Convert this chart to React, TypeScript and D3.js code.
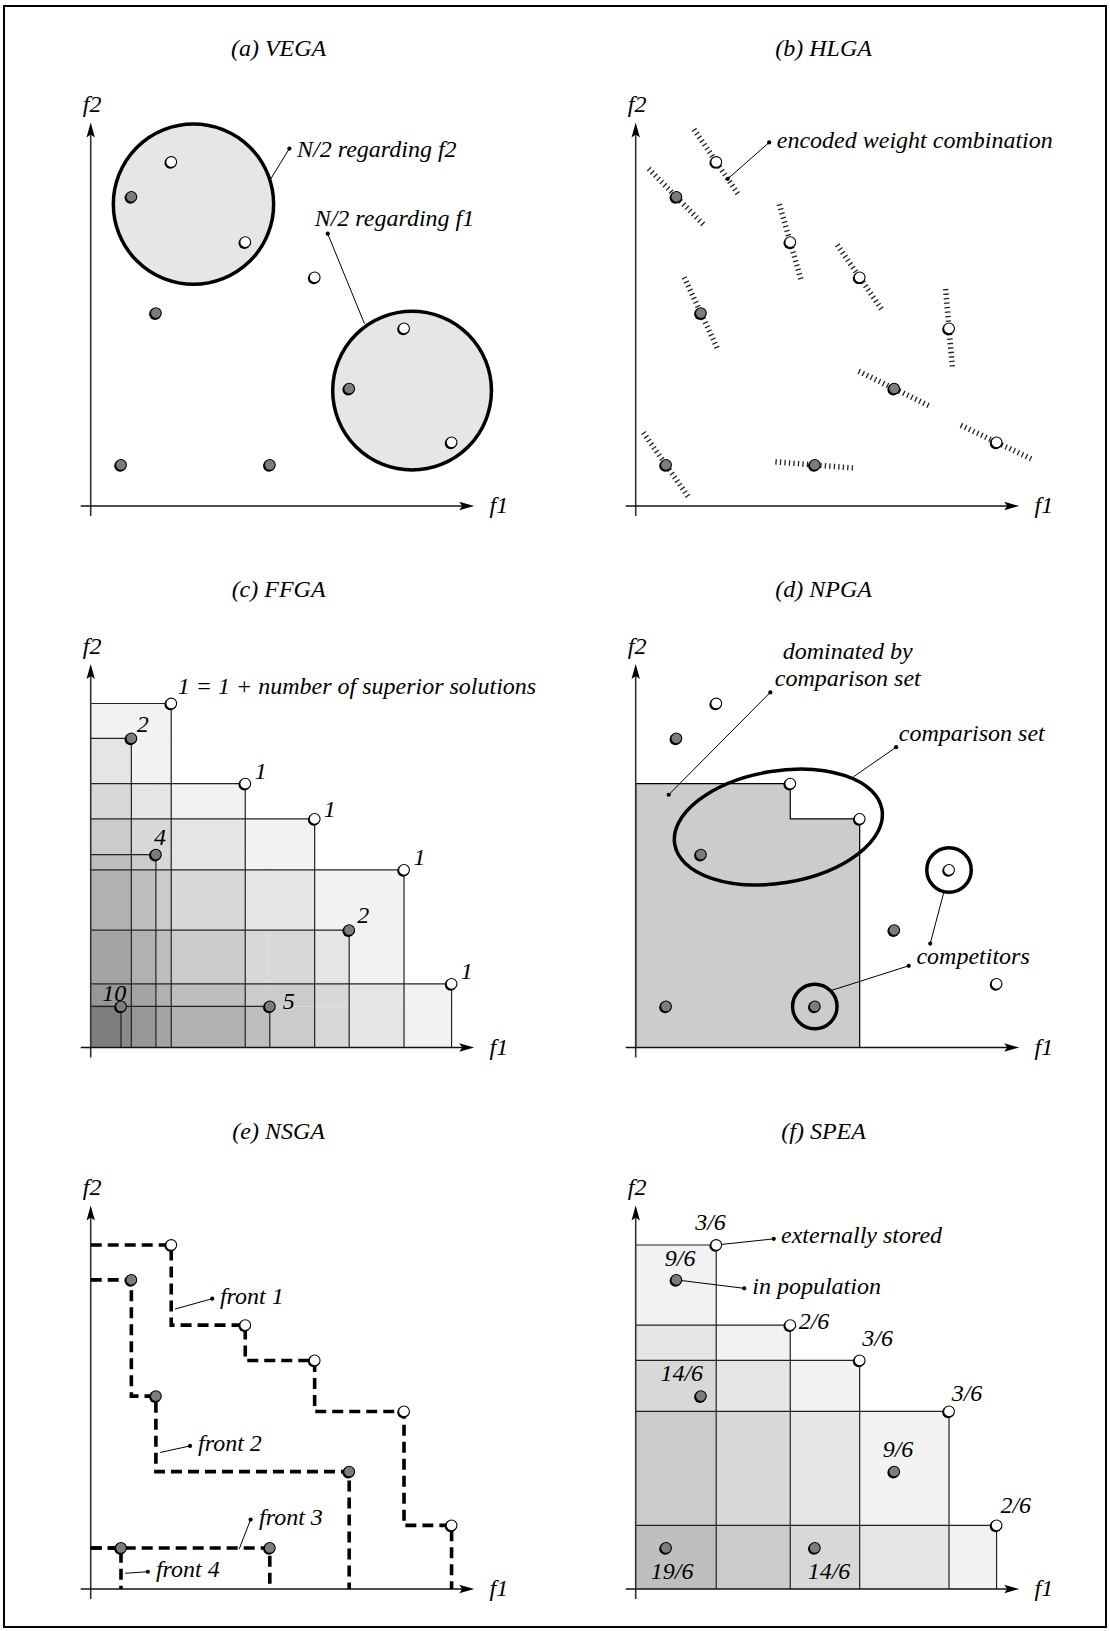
import React from "react";
import * as d3 from "d3";

// ---------------- data (in objective units 0..100) ----------------
const POINT_F1 = [21.0, 10.6, 40.3, 58.4, 17.0, 81.7, 67.4, 94.1, 7.9, 46.7];
const POINT_F2 = [89.7, 80.6, 68.8, 59.6, 50.3, 46.3, 30.6, 16.6, 10.7, 10.7];
const NONDOMINATED = [true, false, true, true, false, true, false, true, false, false];

const PANEL_TITLES = ["(a) VEGA", "(b) HLGA", "(c) FFGA", "(d) NPGA", "(e) NSGA", "(f) SPEA"];

// (a) VEGA: two sub-populations selected by single objectives
const VEGA_GROUP_CX = [26.8, 83.8];
const VEGA_GROUP_CY = [78.7, 30.1];
const VEGA_GROUP_R = [20.9, 20.7];
const VEGA_LABELS = ["N/2 regarding f2", "N/2 regarding f1"];

// (b) HLGA: encoded weight combination, as direction angle (degrees)
const HLGA_WEIGHT_ANGLE = [-55.7, -45.5, -74, -55.5, -65, -85, -26, -25.5, -55, -4.5];
const HLGA_LABEL = "encoded weight combination";

// (c) FFGA ranks
const FFGA_RANK = ["1", "2", "1", "1", "4", "1", "2", "1", "10", "5"];
const FFGA_NOTE = "1 = 1 + number of superior solutions";

// (d) NPGA
const NPGA_COMPARISON_SET = [2, 3, 4];
const NPGA_COMPETITORS = [5, 9];
const NPGA_ELLIPSE = [37.2, 57.5, 27.4, 14.6, 9.5]; // cx, cy, rx, ry, tilt(deg)
const NPGA_COMPETITOR_R = 5.8;
const NPGA_LABELS = ["dominated by", "comparison set", "comparison set", "competitors"];

// (e) NSGA fronts (point indices, by increasing f1)
const NSGA_FRONTS = [[0, 2, 3, 5, 7], [1, 4, 6], [9], [8]];
const NSGA_LABELS = ["front 1", "front 2", "front 3", "front 4"];

// (f) SPEA strengths / fitness
const SPEA_STRENGTH = ["3/6", "9/6", "2/6", "3/6", "14/6", "3/6", "9/6", "2/6", "19/6", "14/6"];
const SPEA_LABELS = ["externally stored", "in population"];

// ---------------- layout ----------------
const W = 1110;
const H = 1631;
const FONT = "'Liberation Serif','Times New Roman',Times,serif";
const FS = 24;
const ORIGIN_X = [90.7, 635.7];
const ORIGIN_Y = [506, 1047.5, 1589];
const AXIS_LEN = 383.5;

const FFGA_LABEL_POS = [
  [22.7, 92.3], [12.0, 82.2], [42.8, 70.0], [60.8, 60.2], [16.5, 52.7],
  [84.2, 47.5], [69.5, 32.4], [96.5, 17.9], [3.0, 12.2], [50.1, 10.0],
];
const SPEA_LABEL_POS = [
  [19.5, 93.7], [11.6, 84.2], [46.5, 67.9], [63.1, 63.3], [12.0, 54.3],
  [86.4, 48.9], [68.4, 34.4], [99.1, 19.9], [9.5, 2.7], [50.4, 2.7],
];

function scalesFor(panel: number) {
  const col = panel % 2;
  const row = Math.floor(panel / 2);
  const ox = ORIGIN_X[col];
  const oy = ORIGIN_Y[row];
  const x = d3.scaleLinear().domain([0, 100]).range([ox, ox + AXIS_LEN]);
  const y = d3.scaleLinear().domain([0, 100]).range([oy, oy - AXIS_LEN]);
  return { x, y };
}

const Txt = ({ x, y, children, anchor = "start" }: any) => (
  <text x={x} y={y} textAnchor={anchor} fontFamily={FONT} fontStyle="italic" fontSize={FS} fill="#000">
    {children}
  </text>
);

const Leader = ({ x1, y1, x2, y2, dot1 = true, dot2 = false }: any) => (
  <g>
    <line x1={x1} y1={y1} x2={x2} y2={y2} stroke="#000" strokeWidth={1} />
    {dot1 && <circle cx={x1} cy={y1} r={2.1} fill="#000" />}
    {dot2 && <circle cx={x2} cy={y2} r={2.1} fill="#000" />}
  </g>
);

function Points({ x, y }: any) {
  return (
    <g>
      {POINT_F1.map((f1, i) => {
        const cx = x(f1);
        const cy = y(POINT_F2[i]);
        return (
          <g key={i}>
            <circle cx={cx - 0.9} cy={cy + 0.9} r={5.9} fill="#000" />
            <circle cx={cx} cy={cy} r={5.4} fill={NONDOMINATED[i] ? "#fff" : "#7c7c7c"} stroke="#000" strokeWidth={1.1} />
          </g>
        );
      })}
    </g>
  );
}

function Axes({ panel }: any) {
  const { x, y } = scalesFor(panel);
  const ox = x(0), oy = y(0);
  const tx = x(100), ty = y(100);
  return (
    <g>
      <line x1={ox} y1={oy + 10} x2={ox} y2={ty + 10} stroke="#333" strokeWidth={1.6} />
      <line x1={ox - 10} y1={oy} x2={tx - 10} y2={oy} stroke="#111" strokeWidth={1.5} />
      <path d={`M${ox},${ty} L${ox - 4.2},${ty + 15} L${ox},${ty + 12} L${ox + 4.2},${ty + 15} Z`} fill="#000" />
      <path d={`M${tx},${oy} L${tx - 15},${oy - 4.2} L${tx - 12},${oy} L${tx - 15},${oy + 4.2} Z`} fill="#000" />
      <Txt x={ox + 1.5} y={y(102.7)} anchor="middle">f2</Txt>
      <Txt x={x(104)} y={oy + 7}>f1</Txt>
      <Txt x={x(49)} y={y(117.4)} anchor="middle">{PANEL_TITLES[panel]}</Txt>
    </g>
  );
}

function coverageCells(idx: number[]) {
  const xs = Array.from(new Set([0, ...idx.map((i) => POINT_F1[i])])).sort((a, b) => a - b);
  const ys = Array.from(new Set([0, ...idx.map((i) => POINT_F2[i])])).sort((a, b) => a - b);
  const cells: any[] = [];
  for (let i = 0; i < xs.length - 1; i++) {
    for (let j = 0; j < ys.length - 1; j++) {
      const n = idx.filter((k) => POINT_F1[k] >= xs[i + 1] && POINT_F2[k] >= ys[j + 1]).length;
      if (n > 0) cells.push({ x0: xs[i], x1: xs[i + 1], y0: ys[j], y1: ys[j + 1], n });
    }
  }
  return cells;
}

function shade(n: number) {
  const v = Math.max(0, 255 - 13 * n);
  return d3.rgb(v, v, v).formatHex();
}

function CoverageGrid({ panel, idx }: any) {
  const { x, y } = scalesFor(panel);
  const cells = coverageCells(idx);
  return (
    <g>
      {cells.map((c, k) => (
        <rect key={k} x={x(c.x0)} y={y(c.y1)} width={x(c.x1) - x(c.x0)} height={y(c.y0) - y(c.y1)} fill={shade(c.n)} />
      ))}
      {idx.map((i) => (
        <g key={i}>
          <line x1={x(0)} y1={y(POINT_F2[i])} x2={x(POINT_F1[i])} y2={y(POINT_F2[i])} stroke="#222" strokeWidth={1.2} />
          <line x1={x(POINT_F1[i])} y1={y(0)} x2={x(POINT_F1[i])} y2={y(POINT_F2[i])} stroke="#222" strokeWidth={1.2} />
        </g>
      ))}
    </g>
  );
}

function PanelVEGA() {
  const p = 0;
  const { x, y } = scalesFor(p);
  return (
    <g>
      {VEGA_GROUP_CX.map((cx, i) => (
        <circle key={i} cx={x(cx)} cy={y(VEGA_GROUP_CY[i])} r={x(VEGA_GROUP_R[i]) - x(0)} fill="#e6e6e6" stroke="#000" strokeWidth={3.5} />
      ))}
      <Leader x1={x(51.8)} y1={y(93.2)} x2={x(46.9)} y2={y(85.2)} />
      <Leader x1={x(61.8)} y1={y(71.0)} x2={x(71.4)} y2={y(47.5)} />
      <Axes panel={p} />
      <Points x={x} y={y} />
      <Txt x={x(53.8)} y={y(91.1)}>{VEGA_LABELS[0]}</Txt>
      <Txt x={x(58.4)} y={y(73.0)}>{VEGA_LABELS[1]}</Txt>
    </g>
  );
}

function PanelHLGA() {
  const p = 1;
  const { x, y } = scalesFor(p);
  const half = 10.3;
  return (
    <g>
      {HLGA_WEIGHT_ANGLE.map((a, i) => {
        const r = (a * Math.PI) / 180;
        const dx = Math.cos(r) * half, dy = Math.sin(r) * half;
        return (
          <line key={i} x1={x(POINT_F1[i] - dx)} y1={y(POINT_F2[i] - dy)} x2={x(POINT_F1[i] + dx)} y2={y(POINT_F2[i] + dy)}
            stroke="#222" strokeWidth={5.5} strokeDasharray="1.3 3.2" />
        );
      })}
      <Axes panel={p} />
      <Points x={x} y={y} />
      <Leader x1={x(34.8)} y1={y(94.8)} x2={x(24.0)} y2={y(85.3)} dot2={true} />
      <Txt x={x(36.8)} y={y(93.4)}>{HLGA_LABEL}</Txt>
    </g>
  );
}

function PanelFFGA() {
  const p = 2;
  const { x, y } = scalesFor(p);
  const all = POINT_F1.map((_, i) => i);
  return (
    <g>
      <CoverageGrid panel={p} idx={all} />
      <Axes panel={p} />
      <Points x={x} y={y} />
      {FFGA_RANK.map((r, i) => (
        <Txt key={i} x={x(FFGA_LABEL_POS[i][0])} y={y(FFGA_LABEL_POS[i][1])}>{i === 0 ? FFGA_NOTE : r}</Txt>
      ))}
    </g>
  );
}

function PanelNPGA() {
  const p = 3;
  const { x, y } = scalesFor(p);
  const set = NPGA_COMPARISON_SET.filter((i) => NONDOMINATED[i]).sort((a, b) => POINT_F1[a] - POINT_F1[b]);
  const verts: [number, number][] = [[0, 0], [0, POINT_F2[set[0]]]];
  set.forEach((i, k) => {
    verts.push([POINT_F1[i], POINT_F2[i]]);
    verts.push([POINT_F1[i], k + 1 < set.length ? POINT_F2[set[k + 1]] : 0]);
  });
  const line = d3.line<[number, number]>().x((d) => x(d[0])).y((d) => y(d[1]));
  const [ecx, ecy, erx, ery, etilt] = NPGA_ELLIPSE;
  const u = x(1) - x(0);
  return (
    <g>
      <path d={line(verts) + "Z"} fill="#cccccc" stroke="#000" strokeWidth={1.2} />
      <ellipse cx={x(ecx)} cy={y(ecy)} rx={erx * u} ry={ery * u} transform={`rotate(${-etilt},${x(ecx)},${y(ecy)})`}
        fill="none" stroke="#000" strokeWidth={3.5} />
      {NPGA_COMPETITORS.map((i) => (
        <circle key={i} cx={x(POINT_F1[i])} cy={y(POINT_F2[i])} r={NPGA_COMPETITOR_R * u} fill="none" stroke="#000" strokeWidth={3.5} />
      ))}
      <Leader x1={x(35.1)} y1={y(92.6)} x2={x(8.6)} y2={y(65.9)} dot2={true} />
      <Leader x1={x(67.9)} y1={y(78.3)} x2={x(56.8)} y2={y(70.6)} />
      <Leader x1={x(71.2)} y1={y(21.3)} x2={x(51.1)} y2={y(14.9)} />
      <Leader x1={x(76.8)} y1={y(27.1)} x2={x(80.3)} y2={y(40.3)} />
      <Axes panel={p} />
      <Points x={x} y={y} />
      <Txt x={x(55.3)} y={y(101.3)} anchor="middle">{NPGA_LABELS[0]}</Txt>
      <Txt x={x(55.3)} y={y(94.3)} anchor="middle">{NPGA_LABELS[1]}</Txt>
      <Txt x={x(68.6)} y={y(79.8)}>{NPGA_LABELS[2]}</Txt>
      <Txt x={x(73.2)} y={y(21.9)}>{NPGA_LABELS[3]}</Txt>
    </g>
  );
}

function PanelNSGA() {
  const p = 4;
  const { x, y } = scalesFor(p);
  const line = d3.line<[number, number]>().x((d) => x(d[0])).y((d) => y(d[1]));
  const paths = NSGA_FRONTS.map((front) => {
    const v: [number, number][] = [[0, POINT_F2[front[0]]]];
    front.forEach((i, k) => {
      v.push([POINT_F1[i], POINT_F2[i]]);
      v.push([POINT_F1[i], k + 1 < front.length ? POINT_F2[front[k + 1]] : 0]);
    });
    return line(v);
  });
  const labelPos = [[33.7, 74.4], [28.0, 36.0], [43.9, 16.7], [17.0, 3.0]];
  const leaders = [
    [31.7, 75.7, 22.0, 73.0],
    [25.9, 37.3, 18.1, 35.6],
    [41.7, 18.1, 38.7, 10.4],
    [14.9, 4.5, 9.0, 4.1],
  ];
  return (
    <g>
      <Axes panel={p} />
      {paths.map((d, i) => (
        <path key={i} d={d as string} fill="none" stroke="#000" strokeWidth={3.6} strokeDasharray="11 6" />
      ))}
      {leaders.map((l, i) => (
        <Leader key={i} x1={x(l[0])} y1={y(l[1])} x2={x(l[2])} y2={y(l[3])} />
      ))}
      <Points x={x} y={y} />
      {NSGA_LABELS.map((t, i) => (
        <Txt key={i} x={x(labelPos[i][0])} y={y(labelPos[i][1])}>{t}</Txt>
      ))}
    </g>
  );
}

function PanelSPEA() {
  const p = 5;
  const { x, y } = scalesFor(p);
  const ext = POINT_F1.map((_, i) => i).filter((i) => NONDOMINATED[i]);
  return (
    <g>
      <CoverageGrid panel={p} idx={ext} />
      <Axes panel={p} />
      <Leader x1={x(36.0)} y1={y(91.3)} x2={x(POINT_F1[0])} y2={y(POINT_F2[0])} />
      <Leader x1={x(28.3)} y1={y(78.4)} x2={x(POINT_F1[1])} y2={y(POINT_F2[1])} />
      <Points x={x} y={y} />
      {SPEA_STRENGTH.map((s, i) => (
        <Txt key={i} x={x(SPEA_LABEL_POS[i][0])} y={y(SPEA_LABEL_POS[i][1])} anchor="middle">{s}</Txt>
      ))}
      <Txt x={x(37.9)} y={y(90.3)}>{SPEA_LABELS[0]}</Txt>
      <Txt x={x(30.4)} y={y(77.0)}>{SPEA_LABELS[1]}</Txt>
    </g>
  );
}

export default function App() {
  return (
    <svg width={W} height={H} viewBox={`0 0 ${W} ${H}`} style={{ position: "absolute", left: 0, top: 0, background: "#fff" }}>
      <rect x={0} y={0} width={W} height={H} fill="#fff" />
      <rect x={4} y={6} width={1102} height={1621} fill="none" stroke="#000" strokeWidth={2} />
      <PanelVEGA />
      <PanelHLGA />
      <PanelFFGA />
      <PanelNPGA />
      <PanelNSGA />
      <PanelSPEA />
    </svg>
  );
}
